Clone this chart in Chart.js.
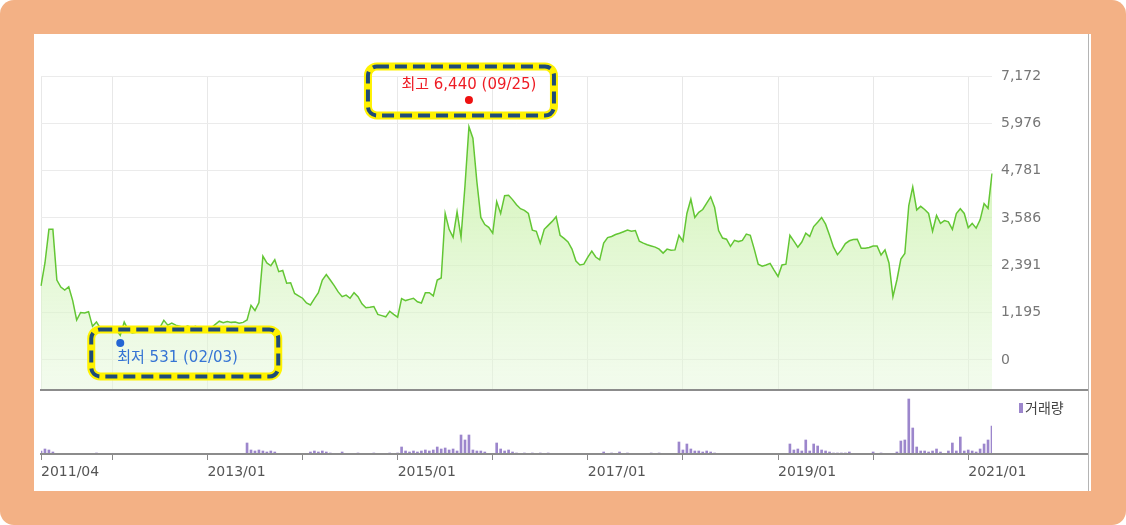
<!DOCTYPE html>
<html>
<head>
<meta charset="utf-8">
<script src="https://cdn.jsdelivr.net/npm/chart.js@4.4.1/dist/chart.umd.min.js"></script>
<style>
html,body{margin:0;padding:0;background:#fff;}
#frame{position:absolute;left:0;top:0;width:1126px;height:525px;background:#f3b185;border-radius:14px;}
#panel{position:absolute;left:34px;top:34px;width:1057px;height:457px;background:#fff;}
canvas{position:absolute;left:0;top:0;}
</style>
</head>
<body>
<div id="frame"></div>
<div id="panel"></div>
<canvas id="price" width="1126" height="525"></canvas>
<canvas id="volume" width="1126" height="525"></canvas>
<script>
// semi-monthly closing prices, 2011/04 .. 2021/04
var closePrice = [
  1870,2450,3300,3300,2020,1843,1768,1850,1500,1010,
  1200,1187,1220,850,960,800,760,720,700,760,
  620,960,760,680,700,800,760,700,740,780,
  820,1000,880,930,880,850,820,860,820,850,
  800,830,780,820,900,980,940,970,950,960,
  930,950,1010,1380,1250,1450,2620,2450,2380,2530,
  2230,2260,1940,1950,1680,1620,1560,1440,1390,1550,
  1700,2020,2160,2020,1880,1720,1600,1640,1560,1700,
  1600,1420,1320,1330,1350,1150,1120,1090,1230,1150,
  1080,1550,1500,1530,1560,1470,1440,1700,1700,1620,
  2020,2070,3700,3300,3100,3740,3100,4400,5890,5600,
  4500,3600,3420,3350,3200,4000,3700,4150,4160,4050,
  3920,3820,3780,3700,3280,3250,2950,3300,3400,3500,
  3620,3150,3070,2980,2800,2500,2400,2420,2600,2750,
  2600,2530,2950,3090,3120,3170,3200,3240,3280,3250,
  3270,3000,2950,2910,2880,2850,2800,2700,2800,2770,
  2780,3150,3000,3700,4060,3600,3730,3800,3960,4120,
  3850,3270,3080,3050,2870,3020,2990,3020,3180,3150,
  2800,2420,2370,2400,2440,2270,2110,2400,2420,3150,
  3000,2850,2980,3200,3120,3370,3480,3600,3430,3150,
  2850,2660,2780,2940,3010,3040,3050,2820,2820,2840,
  2880,2880,2650,2780,2450,1600,2020,2550,2690,3900,
  4370,3790,3880,3800,3700,3250,3650,3450,3520,3490,
  3300,3700,3820,3700,3340,3450,3330,3540,3950,3830,
  4710
];
// trading volume on the same dates
var volume = [
  30,50,40,20,0,0,0,0,0,0,
  0,0,0,0,10,0,0,0,0,0,
  0,0,0,0,0,0,0,0,0,0,
  0,0,0,0,0,0,0,0,0,0,
  0,0,0,0,0,0,0,0,0,0,
  0,0,110,40,30,40,30,20,30,20,
  0,0,0,0,0,0,0,0,20,30,
  20,30,20,10,0,0,20,0,0,0,
  10,0,0,0,10,0,0,0,10,0,
  10,70,30,20,30,20,30,40,30,40,
  70,50,60,40,50,30,190,140,190,40,
  30,30,20,0,0,110,50,30,40,20,
  10,0,10,0,10,0,10,0,10,0,
  0,0,0,0,0,0,0,0,0,0,
  0,0,20,0,10,0,20,0,10,0,
  0,0,0,0,10,0,10,0,0,0,
  0,120,40,100,50,30,30,20,30,20,
  10,0,0,0,0,0,0,0,0,0,
  0,0,0,0,0,0,0,0,0,100,
  40,50,30,140,30,100,80,40,30,20,
  10,10,10,10,20,0,0,0,0,0,
  20,0,10,0,0,0,20,130,140,550,
  260,70,30,30,20,30,50,20,0,30,
  110,30,170,30,40,30,20,50,100,140,
  280
];
var priceTicks = [0, 1195, 2391, 3586, 4781, 5976, 7172];
var yearTicks = ['2011/04','2012/01','2013/01','2014/01','2015/01','2016/01','2017/01','2018/01','2019/01','2020/01','2021/01'];
var yearText  = ['2011/04','','2013/01','','2015/01','','2017/01','','2019/01','','2021/01'];

var highValue = 6440, highDay = '09/25', highAt = '2015/10/01';
var lowValue = 531, lowDay = '02/03', lowAt = '2012/02/01';

// date labels, two per month
var dates = [];
for (var k = 0; k < 241; k++) {
  var m = 3 + Math.floor(k / 2);
  var yr = 2011 + Math.floor(m / 12);
  var mo = (m % 12) + 1;
  dates.push(yr + '/' + (mo < 10 ? '0' : '') + mo + '/' + (k % 2 ? '16' : '01'));
}

Chart.defaults.font.family = "'DejaVu Sans', 'Noto Sans CJK KR', sans-serif";

function setYearTicks(scale) {
  scale.ticks = yearTicks.map(function (t) { return { value: dates.indexOf(t + '/01') }; });
}

function roundedPath(ctx, x1, y1, x2, y2, r) {
  ctx.beginPath();
  ctx.moveTo(x1 + r, y1);
  ctx.lineTo(x2 - r, y1); ctx.arcTo(x2, y1, x2, y1 + r, r);
  ctx.lineTo(x2, y2 - r); ctx.arcTo(x2, y2, x2 - r, y2, r);
  ctx.lineTo(x1 + r, y2); ctx.arcTo(x1, y2, x1, y2 - r, r);
  ctx.lineTo(x1, y1 + r); ctx.arcTo(x1, y1, x1 + r, y1, r);
  ctx.closePath();
}

function highlightBox(ctx, x1, y1, x2, y2) {
  ctx.save();
  roundedPath(ctx, x1, y1, x2, y2, 9);
  ctx.lineWidth = 8; ctx.strokeStyle = '#fff200'; ctx.stroke();
  ctx.setLineDash([12, 6]);
  ctx.lineWidth = 4; ctx.strokeStyle = '#1f4b78'; ctx.stroke();
  ctx.restore();
}

var framePlugin = {
  id: 'frame',
  afterDraw: function (chart) {
    var ctx = chart.ctx, a = chart.chartArea;
    ctx.save();
    ctx.strokeStyle = '#8c8c8c'; ctx.lineWidth = 2;
    ctx.beginPath(); ctx.moveTo(a.left - 1, a.bottom); ctx.lineTo(1088, a.bottom); ctx.stroke();
    ctx.strokeStyle = '#b4b4b4'; ctx.lineWidth = 1;
    ctx.beginPath(); ctx.moveTo(1088.5, 34); ctx.lineTo(1088.5, 491); ctx.stroke();
    ctx.restore();
  }
};

var markerPlugin = {
  id: 'markers',
  afterDraw: function (chart) {
    var ctx = chart.ctx, x = chart.scales.x, y = chart.scales.y;
    var hx = x.getPixelForValue(dates.indexOf(highAt)), hy = y.getPixelForValue(highValue) - 5;
    var lx = x.getPixelForValue(dates.indexOf(lowAt)), ly = y.getPixelForValue(lowValue) + 4;
    ctx.save();
    ctx.font = "15px 'DejaVu Sans', 'Noto Sans CJK KR'";
    ctx.textBaseline = 'middle';
    ctx.fillStyle = '#ee1111';
    ctx.beginPath(); ctx.arc(hx, hy, 4, 0, Math.PI * 2); ctx.fill();
    ctx.fillStyle = '#ee1c24'; ctx.textAlign = 'center';
    ctx.fillText('최고 ' + highValue.toLocaleString('en-US') + ' (' + highDay + ')', hx, hy - 15);
    ctx.fillStyle = '#2466d4';
    ctx.beginPath(); ctx.arc(lx, ly, 4, 0, Math.PI * 2); ctx.fill();
    ctx.fillStyle = '#3574d4'; ctx.textAlign = 'left';
    ctx.fillText('최저 ' + lowValue.toLocaleString('en-US') + ' (' + lowDay + ')', lx - 3, ly + 15);
    ctx.restore();
    highlightBox(ctx, hx - 101, hy - 33.5, hx + 85, hy + 15.5);
    highlightBox(ctx, lx - 29, ly - 13.5, lx + 158, ly + 33.5);
  }
};

var volumePlugin = {
  id: 'volumeFrame',
  afterDraw: function (chart) {
    var ctx = chart.ctx, a = chart.chartArea;
    ctx.save();
    ctx.strokeStyle = '#8c8c8c'; ctx.lineWidth = 2;
    ctx.beginPath(); ctx.moveTo(a.left - 1, a.bottom); ctx.lineTo(1088, a.bottom); ctx.stroke();
    ctx.fillStyle = '#9c86cc';
    ctx.fillRect(a.right + 27, a.top + 11, 4, 10);
    ctx.fillStyle = '#444';
    ctx.font = "14px 'Noto Sans CJK KR'";
    ctx.textBaseline = 'middle'; ctx.textAlign = 'left';
    ctx.fillText('거래량', a.right + 33, a.top + 16);
    ctx.restore();
  }
};

new Chart(document.getElementById('price'), {
  type: 'line',
  data: {
    labels: dates,
    datasets: [{
      data: closePrice,
      borderColor: '#63c634',
      borderWidth: 1.5,
      pointRadius: 0,
      tension: 0,
      fill: 'start',
      backgroundColor: function (c) {
        var a = c.chart.chartArea;
        if (!a) return 'rgba(0,0,0,0)';
        var g = c.chart.ctx.createLinearGradient(0, a.top, 0, a.bottom);
        g.addColorStop(0, 'rgba(185,238,140,0.8)');
        g.addColorStop(1, 'rgba(230,248,220,0.5)');
        return g;
      }
    }]
  },
  options: {
    responsive: false,
    animation: false,
    layout: { padding: { left: 41, top: 76, right: 38, bottom: 135 } },
    plugins: { legend: { display: false }, tooltip: { enabled: false } },
    scales: {
      x: {
        offset: false,
        afterBuildTicks: setYearTicks,
        ticks: { display: false },
        grid: { color: '#e8e8e8', drawTicks: false, offset: false },
        border: { display: false }
      },
      y: {
        position: 'right',
        min: -758, max: 7172,
        afterBuildTicks: function (s) { s.ticks = priceTicks.map(function (v) { return { value: v }; }); },
        afterFit: function (s) { s.width = 96; },
        ticks: { padding: 9, color: '#777', font: { size: 14 }, callback: function (v) { return v.toLocaleString('en-US'); } },
        grid: { color: '#ebebeb', drawTicks: false },
        border: { display: false }
      }
    }
  },
  plugins: [framePlugin, markerPlugin]
});

new Chart(document.getElementById('volume'), {
  type: 'bar',
  data: {
    labels: dates,
    datasets: [{ data: volume, backgroundColor: '#9c86cc', barThickness: 2 }]
  },
  options: {
    responsive: false,
    animation: false,
    layout: { padding: { left: 41, top: 392, right: 38, bottom: 35 } },
    plugins: { legend: { display: false }, tooltip: { enabled: false } },
    scales: {
      x: {
        offset: false,
        afterBuildTicks: setYearTicks,
        afterFit: function (s) { s.height = 36; },
        ticks: { autoSkip: false, maxRotation: 0, align: 'start', padding: 4, color: '#555', font: { size: 14 },
                 callback: function (v, i) { return yearText[i]; } },
        grid: { drawOnChartArea: false, tickLength: 6, tickColor: '#888', offset: false },
        border: { display: false }
      },
      y: {
        position: 'right',
        min: 0, max: 620,
        afterFit: function (s) { s.width = 96; },
        ticks: { display: false },
        grid: { display: false },
        border: { display: false }
      }
    }
  },
  plugins: [volumePlugin]
});
</script>
</body>
</html>
